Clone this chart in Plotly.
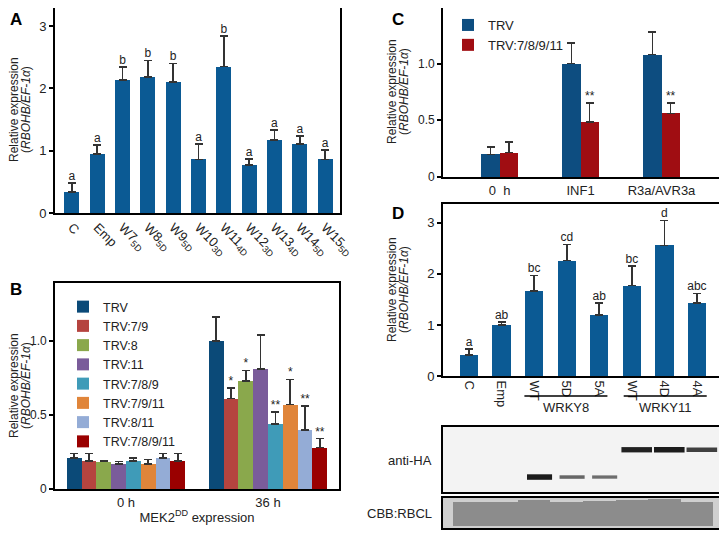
import plotly.graph_objects as go

FONT = "Arial, Liberation Sans, sans-serif"
BLUE = "#0b5a94"
ERR = "#333333"

# ---- Panel A ----
a_labels = ["C", "Emp", "W7<sub>5D</sub>", "W8<sub>5D</sub>", "W9<sub>5D</sub>", "W10<sub>3D</sub>",
            "W11<sub>4D</sub>", "W12<sub>3D</sub>", "W13<sub>4D</sub>", "W14<sub>5D</sub>", "W15<sub>5D</sub>"]
a_mean = [0.34, 0.95, 2.13, 2.18, 2.10, 0.86, 2.35, 0.77, 1.17, 1.11, 0.86]
a_err = [0.14, 0.14, 0.21, 0.27, 0.30, 0.25, 0.49, 0.10, 0.16, 0.13, 0.15]
a_letters = ["a", "a", "b", "b", "b", "a", "b", "a", "a", "a", "a"]

# ---- Panel B ----
b_series = ["TRV", "TRV:7/9", "TRV:8", "TRV:11", "TRV:7/8/9", "TRV:7/9/11", "TRV:8/11", "TRV:7/8/9/11"]
b_colors = ["#0b4a78", "#b5443f", "#8aa84c", "#7a5c9a", "#3f9bb8", "#e0853a", "#94acd6", "#9a0000"]
b_groups = ["0 h", "36 h"]
b_0h = [0.21, 0.19, 0.185, 0.17, 0.19, 0.17, 0.21, 0.19]
b_0h_err = [0.03, 0.05, 0.005, 0.015, 0.02, 0.03, 0.03, 0.05]
b_36h = [1.0, 0.61, 0.73, 0.81, 0.44, 0.57, 0.40, 0.28]
b_36h_err = [0.16, 0.07, 0.07, 0.23, 0.08, 0.17, 0.16, 0.06]
b_stars = ["", "*", "*", "", "**", "*", "**", "**"]

# ---- Panel C ----
c_groups = ["0  h", "INF1", "R3a/AVR3a"]
c_series = ["TRV", "TRV:7/8/9/11"]
c_colors = ["#0d4d80", "#a00d12"]
c_trv = [0.20, 1.0, 1.08]
c_trv_err = [0.065, 0.18, 0.20]
c_kd = [0.215, 0.485, 0.56]
c_kd_err = [0.095, 0.165, 0.09]
c_stars = ["", "**", "**"]

# ---- Panel D ----
d_labels = ["C", "Emp", "WT", "5D", "5A", "WT", "4D", "4A"]
d_mean = [0.41, 1.0, 1.66, 2.26, 1.19, 1.77, 2.56, 1.43]
d_err = [0.12, 0.06, 0.31, 0.32, 0.24, 0.38, 0.49, 0.19]
d_letters = ["a", "ab", "bc", "cd", "ab", "bc", "d", "abc"]

# ---- Blots (relative band intensity per lane) ----
ha_lower = [0.0, 0.0, 1.0, 0.5, 0.45, 0.0, 0.0, 0.0]
ha_upper = [0.0, 0.0, 0.0, 0.0, 0.0, 0.95, 1.0, 0.75]
cbb = [0.78, 0.8, 0.85, 0.8, 0.82, 0.85, 0.88, 0.8]

fig = go.Figure()
err_style = dict(type="data", symmetric=False, color=ERR, thickness=1.6, width=4)
star_font = dict(size=12, color="#222")

# A
xa = list(range(len(a_labels)))
fig.add_trace(go.Bar(x=xa, y=a_mean, width=0.59, marker=dict(color=BLUE, line=dict(width=0)),
                     error_y=dict(array=a_err, arrayminus=[0] * len(a_err), **err_style),
                     showlegend=False, xaxis="x", yaxis="y"))
fig.add_trace(go.Scatter(x=xa, y=[m + e for m, e in zip(a_mean, a_err)], mode="text", text=a_letters,
                         textposition="top center", textfont=star_font,
                         showlegend=False, xaxis="x", yaxis="y"))

# B
b_gap = 0.165
bw = (1 - b_gap) / len(b_series)
for i, name in enumerate(b_series):
    off = (i - (len(b_series) - 1) / 2) * bw
    xs = [g + off for g in range(len(b_groups))]
    ys = [b_0h[i], b_36h[i]]
    es = [b_0h_err[i], b_36h_err[i]]
    fig.add_trace(go.Bar(x=xs, y=ys, width=bw, name=name, marker=dict(color=b_colors[i], line=dict(width=0)),
                         error_y=dict(array=es, arrayminus=[0, 0], **err_style),
                         legend="legend", xaxis="x2", yaxis="y2"))
    if b_stars[i]:
        fig.add_trace(go.Scatter(x=xs[1:], y=[ys[1] + es[1]], mode="text", text=[b_stars[i]],
                                 textposition="top center", textfont=star_font,
                                 showlegend=False, xaxis="x2", yaxis="y2"))

# C
c_gap = 0.55
cw = (1 - c_gap) / 2
for i, (name, vals, errs) in enumerate([(c_series[0], c_trv, c_trv_err), (c_series[1], c_kd, c_kd_err)]):
    off = (i - 0.5) * cw
    xs = [g + off for g in range(len(c_groups))]
    fig.add_trace(go.Bar(x=xs, y=vals, width=cw, name=name, marker=dict(color=c_colors[i], line=dict(width=0)),
                         error_y=dict(array=errs, arrayminus=[0] * 3, **err_style),
                         legend="legend2", xaxis="x3", yaxis="y3"))
    if i == 1:
        keep = [k for k, s in enumerate(c_stars) if s]
        fig.add_trace(go.Scatter(x=[xs[k] for k in keep], y=[vals[k] + errs[k] for k in keep], mode="text",
                                 text=[c_stars[k] for k in keep], textposition="top center", textfont=star_font,
                                 showlegend=False, xaxis="x3", yaxis="y3"))

# D
xd = list(range(len(d_labels)))
fig.add_trace(go.Bar(x=xd, y=d_mean, width=0.56, marker=dict(color=BLUE, line=dict(width=0)),
                     error_y=dict(array=d_err, arrayminus=[0] * len(d_err), **err_style),
                     showlegend=False, xaxis="x4", yaxis="y4"))
fig.add_trace(go.Scatter(x=xd, y=[m + e for m, e in zip(d_mean, d_err)], mode="text", text=d_letters,
                         textposition="top center", textfont=star_font,
                         showlegend=False, xaxis="x4", yaxis="y4"))

# Blot: anti-HA bands (lower row: separate bands, upper row: joined bands)
for lane, (lo, up) in enumerate(zip(ha_lower, ha_upper)):
    for inten, yy, x0, x1 in [(lo, 0.23, -0.22, 0.55), (up, 0.65, -0.32, 0.62)]:
        if inten > 0:
            fig.add_trace(go.Scatter(x=[lane + x0, lane + x1], y=[yy, yy], mode="lines",
                                     line=dict(color="rgba(15,15,15,%.2f)" % (0.3 + 0.65 * inten),
                                               width=1.5 + 4 * inten),
                                     showlegend=False, hoverinfo="skip", xaxis="x5", yaxis="y5"))
# Blot: CBB band
fig.add_trace(go.Bar(x=xd, y=cbb, base=[0.08] * len(cbb), width=1.0,
                     marker=dict(color="#8c8c8c", line=dict(width=0)),
                     showlegend=False, hoverinfo="skip", xaxis="x6", yaxis="y6"))


def frame(**kw):
    d = dict(showline=True, linecolor="black", linewidth=1.8, mirror=True, showgrid=False, zeroline=False,
             tickfont=dict(size=13, color="#222"), ticks="", fixedrange=True, automargin=False)
    d.update(kw)
    return d


yt = dict(ticks="outside", ticklen=4, tickwidth=1.5, tickcolor="black")

# page body has an 8px margin, so the figure is drawn 8px in from the top-left corner
OFF = 8
W, H = 727 - OFF, 542 - OFF
def px(a, b):
    return [(a - OFF) / W, (b - OFF) / W]
def py(top, bottom):
    return [1 - (bottom - OFF) / H, 1 - (top - OFF) / H]
def pxp(a):
    return (a - OFF) / W
def pyp(b):
    return 1 - (b - OFF) / H

layout = dict(
    width=W, height=H, margin=dict(l=0, r=0, t=0, b=0, autoexpand=False),
    paper_bgcolor="white", plot_bgcolor="white", barmode="overlay",
    font=dict(family=FONT, color="#222"),
    xaxis=frame(domain=px(55, 340), range=[-0.67, 10.59], tickvals=xa, ticktext=a_labels,
                tickangle=45, anchor="y"),
    yaxis=frame(domain=py(8, 213), range=[0, 3.29], tickvals=[0, 1, 2, 3], anchor="x", **yt),
    xaxis2=frame(domain=px(55, 339), range=[-0.5, 1.5], tickvals=[0, 1], ticktext=b_groups, anchor="y2",
                 title=dict(text="MEK2<sup>DD</sup> expression", font=dict(size=13), standoff=4)),
    yaxis2=frame(domain=py(283, 489), range=[0, 1.39], tickvals=[0, 0.5, 1.0], ticktext=["0", "0.5", "1.0"],
                 anchor="x2", **yt),
    xaxis3=frame(domain=px(443, 723), range=[-0.7, 2.76], tickvals=[0, 1, 2], ticktext=c_groups, anchor="y3"),
    yaxis3=frame(domain=py(8, 177), range=[0, 1.49], tickvals=[0, 0.5, 1.0, 1.5],
                 ticktext=["0", "0.5", "1.0", "1.5"], anchor="x3", **yt),
    xaxis4=frame(domain=px(443, 723), range=[-0.8, 7.8], tickvals=xd, ticktext=d_labels, tickangle=90,
                 anchor="y4"),
    yaxis4=frame(domain=py(204, 376), range=[0, 3.37], tickvals=[0, 1, 2, 3], anchor="x4", **yt),
    xaxis5=frame(domain=px(443, 723), range=[-0.8, 7.8], showticklabels=False, anchor="y5"),
    yaxis5=frame(domain=py(427, 492), range=[0, 1], showticklabels=False, anchor="x5"),
    xaxis6=frame(domain=px(443, 723), range=[-0.8, 7.8], showticklabels=False, anchor="y6"),
    yaxis6=frame(domain=py(498, 528), range=[0, 1], showticklabels=False, anchor="x6"),
    legend=dict(x=pxp(63), y=pyp(292), xanchor="left", yanchor="top", bgcolor="rgba(0,0,0,0)",
                font=dict(size=12.5, color="#222"), itemwidth=30, tracegroupgap=0),
    legend2=dict(x=pxp(448), y=pyp(10), xanchor="left", yanchor="top", bgcolor="rgba(0,0,0,0)",
                 font=dict(size=13, color="#222"), itemwidth=30),
    bargap=0,
)
fig.update_layout(**layout)
fig.update_layout(yaxis2_tickfont_size=12, yaxis3_tickfont_size=12)

# blot backgrounds
fig.add_shape(type="rect", xref="x5 domain", yref="y5 domain", x0=0, x1=1, y0=0, y1=1,
              fillcolor="#f3f3f3", line=dict(width=0), layer="below")
fig.add_shape(type="rect", xref="x6 domain", yref="y6 domain", x0=0, x1=1, y0=0, y1=1,
              fillcolor="#cfcfcf", line=dict(width=0), layer="below")

# WRKY group lines under panel D
for x0, x1, lab in [(1.7, 4.25, "WRKY8"), (4.75, 7.3, "WRKY11")]:
    fig.add_shape(type="line", xref="x4", yref="paper", x0=x0, x1=x1, y0=pyp(396), y1=pyp(396),
                  line=dict(color="black", width=1.5))
    fig.add_annotation(x=(x0 + x1) / 2, xref="x4", y=pyp(398), yref="paper", text=lab, showarrow=False,
                       yanchor="top", font=dict(size=13, color="#222"))

# y axis titles, one annotation per line so they can sit close to the page edge
ytxt = ["Relative expression", "(<i>RBOHB/EF-1α</i>)"]
for x, y in [(14, 110), (14, 386), (392, 92), (392, 290)]:
    for k, line in enumerate(ytxt):
        fig.add_annotation(x=pxp(x + 12 * k), y=pyp(y), xref="paper", yref="paper", text=line, textangle=-90,
                           showarrow=False, xanchor="center", yanchor="middle", borderpad=0,
                           font=dict(size=12, color="#222"))

# panel letters and blot labels
for lab, x, y in [("A", 8, 8), ("B", 8, 278), ("C", 390, 8), ("D", 390, 202)]:
    fig.add_annotation(x=pxp(x), y=pyp(y), xref="paper", yref="paper", text="<b>%s</b>" % lab,
                       showarrow=False, xanchor="left", yanchor="top", font=dict(size=17, color="black"))
for lab, y in [("anti-HA", 460), ("CBB:RBCL", 513)]:
    fig.add_annotation(x=pxp(434), y=pyp(y), xref="paper", yref="paper", text=lab, showarrow=False,
                       xanchor="right", yanchor="middle", font=dict(size=13, color="#222"))

fig.write_html("out.html")
